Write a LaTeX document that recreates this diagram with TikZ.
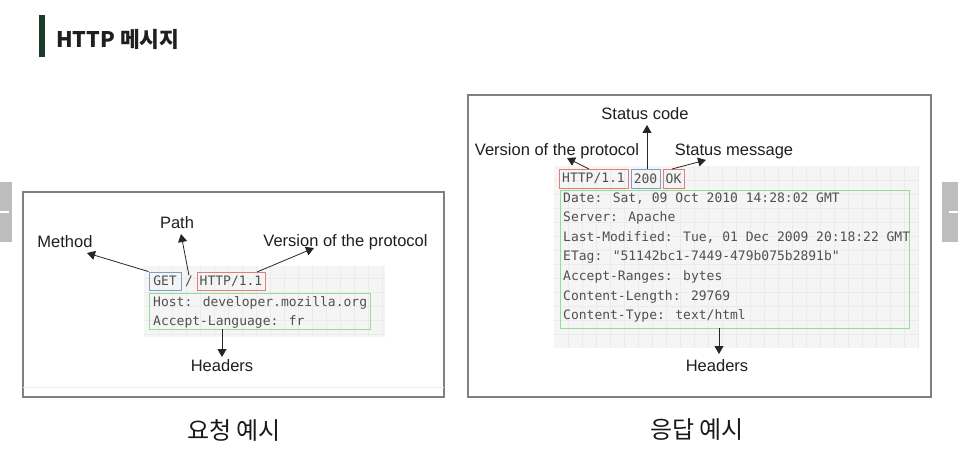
\documentclass[tikz,border=0pt]{standalone}
\usepackage{fontspec}
\setmainfont{Liberation Sans}
\newfontfamily\krfont{Noto Sans CJK KR}
\newfontfamily\codefont{DejaVu Sans Mono}
\usetikzlibrary{arrows.meta}

\definecolor{titlebar}{HTML}{1B3A2A}
\definecolor{panelline}{HTML}{808080}
\definecolor{gridbg}{HTML}{F5F5F5}
\definecolor{gridln}{HTML}{EBEBEB}
\definecolor{codetext}{HTML}{505050}
\definecolor{boxblue}{HTML}{7E9CC6}
\definecolor{boxred}{HTML}{DE7F7F}
\definecolor{boxgreen}{HTML}{93DE93}
\definecolor{tabgray}{HTML}{BDBDBD}

\tikzset{
  panel/.style={draw=panelline, line width=1.4pt},
  lbl/.style={inner sep=0pt, text=black!88, font=\fontsize{16.5}{19}\selectfont},
  code/.style={inner sep=0pt, anchor=west, text=codetext, font=\codefont\fontsize{13}{15}\selectfont},
  fieldbox/.style={draw=#1, line width=0.9pt, inner sep=0pt, text=codetext,
    font=\codefont\fontsize{13}{15}\selectfont},
  groupbox/.style={draw=boxgreen, line width=0.9pt, inner sep=0pt},
  arr/.style={-{Triangle[length=8pt,width=9pt]}, line width=0.8pt, black!85},
  caption/.style={inner sep=0pt, font=\krfont\fontsize{24}{28}\selectfont, text=black!90}
}

\begin{document}
\begin{tikzpicture}[x=1pt,y=-1pt]
  % page
  \fill[white] (0,0) rectangle (958,457);
  \useasboundingbox (0,0) rectangle (958,457);

  % heading
  \fill[titlebar] (39,15) rectangle (44.5,57);
  \node[anchor=west, inner sep=0pt, font=\krfont\bfseries\fontsize{21.5}{25}\selectfont, text=black!88]
    (title) at (56,39.5) {HTTP 메시지};

  % side tabs
  \fill[tabgray] (0,182) rectangle (12,242);
  \draw[white, line width=1.6pt] (0,212) -- (9,212);
  \fill[tabgray] (942,182) rectangle (958,242);
  \draw[white, line width=1.6pt] (949,212) -- (958,212);

  % ---------------- request panel ----------------
  \draw[panel] (23,192) rectangle (444,397);
  \draw[gridln, line width=0.8pt] (23,387) -- (444,387);
  \fill[gridbg] (144,266) rectangle (385,337);
  \foreach \x in {158,172,...,384} \draw[gridln, line width=0.5pt] (\x,266) -- (\x,337);
  \foreach \y in {278,292,...,336} \draw[gridln, line width=0.5pt] (144,\y) -- (385,\y);

  \node[fieldbox=boxblue, minimum width=32pt, minimum height=18pt] (get) at (165,281) {GET};
  \node[inner sep=0pt, text=codetext, font=\codefont\fontsize{13}{15}\selectfont] (slash) at (189,281) {/};
  \node[fieldbox=boxred, minimum width=68pt, minimum height=18pt] (reqver) at (231,281) {HTTP/1.1};
  \node[groupbox, minimum width=221pt, minimum height=36pt] (reqhdr) at (259.5,311) {};
  \node[code] (h1) at (153,303) {Host: developer.mozilla.org};
  \node[code] (h2) at (153,322) {Accept-Language: fr};

  \node[lbl] (method) at (65,242) {Method};
  \node[lbl] (path) at (177,223) {Path};
  \node[lbl] (version) at (345.5,242) {Version of the protocol};
  \node[lbl] (reqheaders) at (222,366) {Headers};

  \coordinate (tMethod) at (87,253);
  \coordinate (tPath) at (181,234);
  \coordinate (tVersion) at (314,248);
  \coordinate (sVersion) at (257,272);
  \coordinate (sHeaders) at (222,329);
  \coordinate (tHeaders) at (222,357);

  \draw[arr] (get.north west) -- (tMethod);
  \draw[arr] (slash.north) -- (tPath);
  \draw[arr] (sVersion) -- (tVersion);
  \draw[arr] (sHeaders) -- (tHeaders);

  % ---------------- response panel ----------------
  \draw[panel] (468,95) rectangle (931,397);
  \fill[gridbg] (554,166) rectangle (919,348);
  \foreach \x in {568,582,...,918} \draw[gridln, line width=0.5pt] (\x,166) -- (\x,348);
  \foreach \y in {180,194,...,347} \draw[gridln, line width=0.5pt] (554,\y) -- (919,\y);

  \node[fieldbox=boxred, minimum width=69pt, minimum height=19pt] (resver) at (593.5,178.5) {HTTP/1.1};
  \node[fieldbox=boxblue, minimum width=29pt, minimum height=19pt] (code) at (645.5,178.5) {200};
  \node[fieldbox=boxred, minimum width=21pt, minimum height=19pt] (msg) at (673.5,178.5) {OK};
  \node[groupbox, minimum width=349pt, minimum height=138pt] (reshdr) at (734.5,259) {};
  \node[code] (r1) at (563,198.3) {Date: Sat, 09 Oct 2010 14:28:02 GMT};
  \node[code] (r2) at (563,218) {Server: Apache};
  \node[code] (r3) at (563,237.5) {Last-Modified: Tue, 01 Dec 2009 20:18:22 GMT};
  \node[code] (r4) at (563,257) {ETag: "51142bc1-7449-479b075b2891b"};
  \node[code] (r5) at (563,276.7) {Accept-Ranges: bytes};
  \node[code] (r6) at (563,296.5) {Content-Length: 29769};
  \node[code] (r7) at (563,316) {Content-Type: text/html};

  \node[lbl] (statuscode) at (645,114) {Status code};
  \node[lbl] (resversion) at (557,151) {Version of the protocol};
  \node[lbl] (statusmsg) at (734,151) {Status message};
  \node[lbl] (resheaders) at (717,366) {Headers};

  \coordinate (sResVer) at (589,169);
  \coordinate (tResVer) at (567,158);
  \coordinate (sCode) at (647,169);
  \coordinate (tCode) at (647,125);
  \coordinate (sMsg) at (672,169);
  \coordinate (tMsg) at (706,160);
  \coordinate (sResHdr) at (719,328);
  \coordinate (tResHdr) at (719,354);

  \draw[arr] (sResVer) -- (tResVer);
  \draw[arr] (sCode) -- (tCode);
  \draw[arr] (sMsg) -- (tMsg);
  \draw[arr] (sResHdr) -- (tResHdr);

  % captions
  \node[caption] (reqcap) at (234,430) {요청 예시};
  \node[caption] (rescap) at (697,430) {응답 예시};
\end{tikzpicture}
\end{document}
